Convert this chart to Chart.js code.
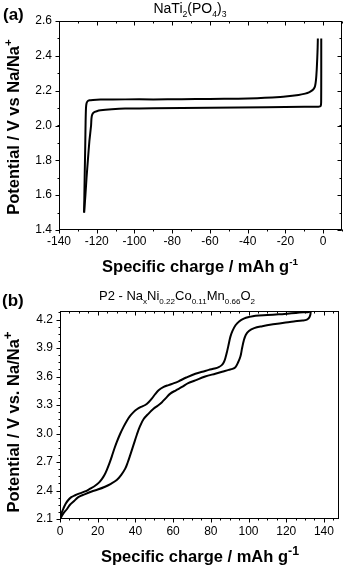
<!DOCTYPE html>
<html>
<head>
<meta charset="utf-8">
<script src="https://cdn.jsdelivr.net/npm/chart.js@4.4.0/dist/chart.umd.min.js"></script>
<style>
html, body { margin: 0; padding: 0; background: #fff; }
#wrap { position: relative; width: 344px; height: 565px; }
.box { position: absolute; left: 0; width: 344px; }
</style>
</head>
<body>
<div id="wrap">
  <div class="box" style="top:0;height:282px"><canvas id="chartA"></canvas></div>
  <div class="box" style="top:282px;height:283px"><canvas id="chartB"></canvas></div>
</div>
<script>
// (a) NaTi2(PO4)3 - charge / discharge loop
const naTiChargeQ = [-126.7, -126.4, -126.1, -125.9, -125.7, -125.4, -124.8, -123.8, -122, -118, -105, -90, -75, -60, -45, -35, -27, -20, -13, -9.5, -7.5, -6, -5, -4.3, -3.8, -3.4, -3.1, -2.9, -2.8];
const naTiChargeV = [1.50, 1.70, 1.88, 2.02, 2.10, 2.128, 2.140, 2.145, 2.147, 2.149, 2.150, 2.150, 2.151, 2.152, 2.154, 2.157, 2.161, 2.166, 2.175, 2.183, 2.190, 2.200, 2.210, 2.225, 2.26, 2.32, 2.39, 2.45, 2.50];
const naTiDischargeQ = [-1.0, -1.0, -1.05, -1.3, -2.5, -10, -30, -60, -90, -105, -112, -118, -120, -121.6, -122.4, -122.8, -123.0, -123.9, -124.7, -125.4, -126.0, -126.7];
const naTiDischargeV = [2.50, 2.30, 2.135, 2.112, 2.108, 2.107, 2.105, 2.102, 2.099, 2.097, 2.093, 2.087, 2.082, 2.075, 2.062, 2.04, 2.00, 1.91, 1.80, 1.70, 1.60, 1.50];
const ticksA_x = [-140, -120, -100, -80, -60, -40, -20, 0];
const ticksA_y = [1.4, 1.6, 1.8, 2.0, 2.2, 2.4, 2.6];

// (b) P2 - NaxNi0.22Co0.11Mn0.66O2
const p2ChargeQ = [0, 0.8, 1.8, 3, 4.4, 6, 8, 10.5, 13.3, 16, 18.6, 20.5, 22.2, 23.5, 24.8, 26.2, 27.5, 29, 30.1, 32, 33.7, 35.5, 37, 39, 40.8, 43, 45.2, 47, 48.8, 50.5, 52.3, 55, 57.6, 60.5, 62.9, 67, 71.8, 75.5, 78.9, 82, 84.2, 85.8, 86.9, 87.8, 88.7, 89.6, 90.4, 91.5, 93.1, 95, 97.5, 100.5, 103.7, 110, 116, 120.5, 125, 129, 132, 133];
const p2ChargeV = [2.10, 2.16, 2.21, 2.26, 2.30, 2.33, 2.35, 2.37, 2.39, 2.42, 2.45, 2.48, 2.52, 2.56, 2.615, 2.685, 2.76, 2.85, 2.91, 3.00, 3.07, 3.135, 3.18, 3.225, 3.255, 3.28, 3.30, 3.33, 3.37, 3.415, 3.455, 3.49, 3.51, 3.53, 3.55, 3.59, 3.63, 3.65, 3.67, 3.685, 3.70, 3.72, 3.75, 3.80, 3.87, 3.95, 4.02, 4.08, 4.14, 4.18, 4.21, 4.228, 4.24, 4.248, 4.255, 4.262, 4.27, 4.276, 4.28, 4.285];
const p2DischargeQ = [133, 132.8, 132.2, 131, 128.6, 124, 119.7, 113, 107.3, 103, 100.2, 98.6, 97.5, 96.6, 95.7, 94.5, 93.1, 91.5, 89.5, 86, 82.4, 77, 71.8, 68, 64.7, 61.5, 58.5, 56, 54.1, 52, 49.6, 47, 44.3, 42.5, 40.8, 39, 37.2, 36, 34.6, 32.5, 30.1, 27, 23.9, 20, 16.8, 13, 9.7, 7.5, 5.3, 3.5, 1.8, 0.3];
const p2DischargeV = [4.285, 4.25, 4.22, 4.20, 4.19, 4.18, 4.17, 4.15, 4.13, 4.11, 4.08, 4.04, 3.98, 3.90, 3.81, 3.75, 3.70, 3.68, 3.67, 3.65, 3.63, 3.60, 3.56, 3.53, 3.49, 3.455, 3.42, 3.37, 3.33, 3.295, 3.26, 3.21, 3.15, 3.08, 2.99, 2.88, 2.77, 2.70, 2.63, 2.565, 2.51, 2.47, 2.44, 2.41, 2.39, 2.36, 2.33, 2.29, 2.25, 2.20, 2.16, 2.11];
const ticksB_x = [0, 20, 40, 60, 80, 100, 120, 140];
const ticksB_y = [2.1, 2.4, 2.7, 3.0, 3.3, 3.6, 3.9, 4.2];

const FONT = '"Liberation Sans", Arial, Helvetica, sans-serif';

const toPoints = (qs, vs) => qs.map((q, i) => ({ x: q, y: vs[i] }));

// Rich text helpers (sub- and superscripts)
const partFont = (p, size, weight) => {
    const s = (p.sub || p.sup) ? size * (p.scale || 0.62) : size;
    return `${weight} ${s}px ${FONT}`;
};

const drawRich = (ctx, item) => {
    const size = item.size;
    const weight = item.weight || 'normal';
    ctx.save();
    ctx.translate(item.x, item.y);
    if (item.rotate) ctx.rotate(item.rotate);
    ctx.fillStyle = '#000';
    ctx.textAlign = 'left';
    ctx.textBaseline = 'alphabetic';
    let w = 0;
    item.parts.forEach(p => {
        ctx.font = partFont(p, size, weight);
        w += ctx.measureText(p.t).width;
    });
    let cx = item.align === 'center' ? -w / 2 : 0;
    item.parts.forEach(p => {
        ctx.font = partFont(p, size, weight);
        const dy = p.sub ? size * 0.28 : p.sup ? -size * 0.45 : 0;
        ctx.fillText(p.t, cx, dy);
        cx += ctx.measureText(p.t).width;
    });
    ctx.restore();
};

// Frame, major/minor ticks and labels
const decoPlugin = {
    id: 'deco',
    afterDraw(chart, args, opts) {
        const { ctx, chartArea: a, scales } = chart;
        const xs = scales.x, ys = scales.y;
        ctx.save();
        ctx.strokeStyle = '#000';
        ctx.lineWidth = 1;
        ctx.strokeRect(Math.round(a.left) + 0.5, Math.round(a.top) + 0.5,
            Math.round(a.right - a.left) - 1, Math.round(a.bottom - a.top) - 1);

        const L = Math.round(a.left) + 0.5, R = Math.round(a.right) - 0.5;
        const T = Math.round(a.top) + 0.5, B = Math.round(a.bottom) - 0.5;
        const line = (x1, y1, x2, y2) => {
            ctx.beginPath(); ctx.moveTo(x1, y1); ctx.lineTo(x2, y2); ctx.stroke();
        };
        const xTick = (v, len) => {
            const px = Math.round(xs.getPixelForValue(v)) + 0.5;
            line(px, B, px, B + len);
            line(px, T, px, T + len);
        };
        const yTick = (v, len) => {
            const py = Math.round(ys.getPixelForValue(v)) + 0.5;
            line(L, py, L - len, py);
            if (opts.rightTicks) line(R, py, R - len, py);
        };
        xs.ticks.forEach(t => xTick(t.value, 4));
        ys.ticks.forEach(t => yTick(t.value, 4));
        for (let v = xs.min; v <= xs.max + 1e-9; v += opts.minorX) xTick(v, 2);
        for (let v = ys.min; v <= ys.max + 1e-9; v += opts.minorY) yTick(v, 2);
        ctx.restore();

        opts.texts.forEach(t => drawRich(ctx, t));
    }
};

const makeChart = (id, cfg) => {
    const ctx = document.getElementById(id).getContext('2d');
    return new Chart(ctx, {
        type: 'line',
        data: {
            datasets: cfg.series.map(s => ({
                data: s,
                borderColor: '#000',
                borderWidth: 2,
                pointRadius: 0,
                fill: false,
                tension: cfg.tension
            }))
        },
        options: {
            responsive: true,
            maintainAspectRatio: false,
            animation: false,
            layout: { padding: cfg.padding },
            scales: {
                x: {
                    type: 'linear',
                    min: cfg.xMin,
                    max: cfg.xMax,
                    afterBuildTicks: s => { s.ticks = cfg.xTicks.map(v => ({ value: v })); },
                    afterFit: s => { s.height = cfg.xHeight; },
                    ticks: {
                        color: '#000',
                        padding: cfg.xPad,
                        font: { family: FONT, size: 12 },
                        maxRotation: 0,
                        autoSkip: false,
                        callback: v => String(v)
                    },
                    grid: { display: false, drawTicks: false, tickLength: 0 },
                    border: { display: false }
                },
                y: {
                    type: 'linear',
                    min: cfg.yMin,
                    max: cfg.yMax,
                    afterBuildTicks: s => { s.ticks = cfg.yTicks.map(v => ({ value: v })); },
                    afterFit: s => { s.width = cfg.yWidth; },
                    ticks: {
                        color: '#000',
                        padding: 7,
                        font: { family: FONT, size: 12 },
                        autoSkip: false,
                        callback: v => v.toFixed(1)
                    },
                    grid: { display: false, drawTicks: false, tickLength: 0 },
                    border: { display: false }
                }
            },
            plugins: {
                legend: { display: false },
                tooltip: { enabled: false },
                deco: cfg.deco
            }
        },
        plugins: [decoPlugin]
    });
};

makeChart('chartA', {
    series: [toPoints(naTiChargeQ, naTiChargeV), toPoints(naTiDischargeQ, naTiDischargeV)],
    tension: 0.15,
    padding: { top: 21, right: 2, left: 0, bottom: 0 },
    xMin: -140, xMax: 10, xTicks: ticksA_x, xHeight: 52, xPad: 4,
    yMin: 1.4, yMax: 2.6, yTicks: ticksA_y, yWidth: 59,
    deco: {
        minorX: 10, minorY: 0.1, rightTicks: true,
        texts: [
            { parts: [{ t: '(a)' }], x: 3, y: 20, size: 17, weight: 'bold' },
            { parts: [{ t: 'NaTi' }, { t: '2', sub: true }, { t: '(PO' }, { t: '4', sub: true }, { t: ')' }, { t: '3', sub: true }],
              x: 190, y: 13, size: 14, align: 'center' },
            { parts: [{ t: 'Potential / V vs Na/Na' }, { t: '+', sup: true, scale: 0.7 }],
              x: 19, y: 127, size: 16.5, weight: 'bold', align: 'center', rotate: -Math.PI / 2 },
            { parts: [{ t: 'Specific charge / mAh g' }, { t: '-1', sup: true, scale: 0.6 }],
              x: 200, y: 272, size: 16.5, weight: 'bold', align: 'center' }
        ]
    }
});

makeChart('chartB', {
    series: [toPoints(p2ChargeQ, p2ChargeV), toPoints(p2DischargeQ, p2DischargeV)],
    tension: 0.35,
    padding: { top: 29, right: 5, left: 0, bottom: 0 },
    xMin: 0, xMax: 148, xTicks: ticksB_x, xHeight: 46, xPad: 5,
    yMin: 2.1, yMax: 4.29, yTicks: ticksB_y, yWidth: 60,
    deco: {
        minorX: 5, minorY: 0.075, rightTicks: false,
        texts: [
            { parts: [{ t: '(b)' }], x: 2, y: 24, size: 17, weight: 'bold' },
            { parts: [{ t: 'P2 - Na' }, { t: 'x', sub: true }, { t: 'Ni' }, { t: '0.22', sub: true }, { t: 'Co' },
                      { t: '0.11', sub: true }, { t: 'Mn' }, { t: '0.66', sub: true }, { t: 'O' }, { t: '2', sub: true }],
              x: 177, y: 18, size: 13, align: 'center' },
            { parts: [{ t: 'Potential / V vs. Na/Na' }, { t: '+', sup: true, scale: 0.8 }],
              x: 19, y: 140, size: 16.5, weight: 'bold', align: 'center', rotate: -Math.PI / 2 },
            { parts: [{ t: 'Specific charge / mAh g' }, { t: '-1', sup: true, scale: 0.75 }],
              x: 200, y: 280, size: 16.5, weight: 'bold', align: 'center' }
        ]
    }
});
</script>
</body>
</html>
